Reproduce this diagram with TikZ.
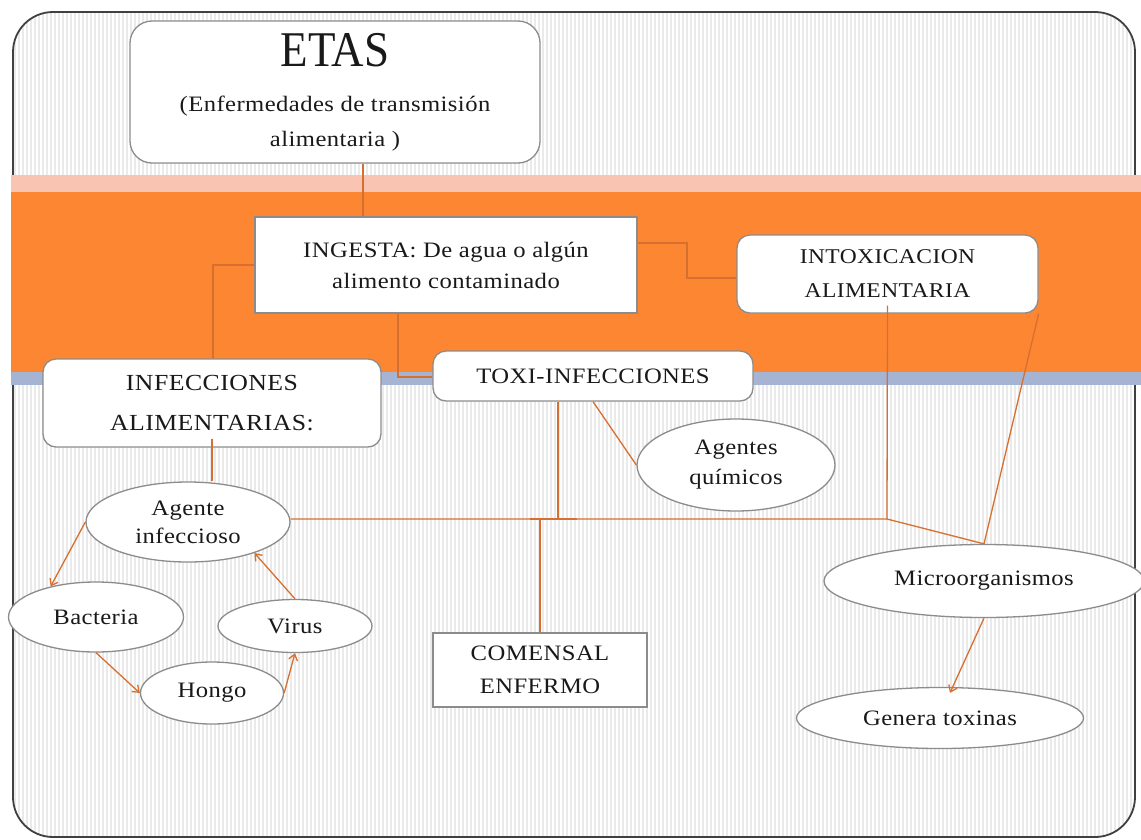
\documentclass[tikz,border=0pt]{standalone}
\usepackage{fontspec}
\setmainfont{Liberation Serif}[FakeStretch=1.12,LetterSpace=2]
\newfontfamily\etasfont{Liberation Serif}[FakeStretch=0.9]
\usetikzlibrary{shapes.geometric,arrows.meta}
\definecolor{bandorange}{RGB}{253,134,51}
\definecolor{bandpink}{RGB}{250,196,178}
\definecolor{bandblue}{RGB}{166,180,212}
\definecolor{conncol}{RGB}{214,112,48}
\definecolor{nodeborder}{RGB}{140,140,140}
\definecolor{stripecol}{RGB}{234,234,234}
\definecolor{txtcol}{RGB}{25,25,25}
\begin{document}
\begin{tikzpicture}[x=1pt,y=-1pt,
  box/.style={draw=nodeborder, line width=1.3pt, fill=white, inner sep=0pt, align=center, text=txtcol},
  rbox/.style={box, rounded corners=13pt},
  sbox/.style={box},
  oval/.style={box, ellipse},
  fs/.style={font=\fontsize{22}{#1}\selectfont},
  link/.style={draw=conncol, line width=1.3pt},
  arr/.style={link, -{Straight Barb[length=6pt,width=9pt]}},
]
\useasboundingbox (0,0) rectangle (1141,839);
\fill[white] (0,0) rectangle (1141,839);
% striped background inside the frame
\begin{scope}
  \clip[rounded corners=40pt] (13,12) rectangle (1135,837);
  \foreach \x in {15,19,...,1135} \draw[stripecol, line width=1.1pt] (\x,12) -- (\x,837);
\end{scope}
\draw[black!75, line width=1.8pt, rounded corners=40pt] (13,12) rectangle (1135,837);
% bands
\fill[bandpink] (11,175) rectangle (1141,192);
\fill[bandorange] (11,192) rectangle (1141,372);
\fill[bandblue] (11,372) rectangle (1141,385);

% nodes
\node[rbox, rounded corners=22pt, minimum width=410pt, minimum height=142pt, fs=35] (etas) at (335,92)
  {{\etasfont\fontsize{50}{50}\selectfont ETAS}\\[10pt](Enfermedades de transmisión\\alimentaria )};
\node[sbox, minimum width=382pt, minimum height=96pt, fs=31] (ingesta) at (446,265)
  {INGESTA: De agua o algún\\alimento contaminado};
\node[rbox, minimum width=301pt, minimum height=78pt, font=\fontsize{21}{34}\selectfont] (intox) at (887.5,274)
  {INTOXICACION\\ALIMENTARIA};
\node[rbox, minimum width=320pt, minimum height=50pt, fs=30] (toxi) at (593,376) {TOXI-INFECCIONES};
\node[rbox, minimum width=338pt, minimum height=88pt, font=\fontsize{23}{40}\selectfont] (infec) at (212,403)
  {INFECCIONES\\ALIMENTARIAS:};
\node[oval, minimum width=198pt, minimum height=92pt, fs=30] (quim) at (736,465) {Agentes\\químicos};
\node[oval, minimum width=204pt, minimum height=80pt, fs=28] (agente) at (188,522) {Agente\\infeccioso};
\node[oval, minimum width=175pt, minimum height=70pt, fs=28] (bacteria) at (96,617) {Bacteria};
\node[oval, minimum width=154pt, minimum height=53pt, fs=28] (virus) at (295,626) {Virus};
\node[oval, minimum width=143pt, minimum height=62pt, fs=28] (hongo) at (212,693) {Hongo};
\node[sbox, minimum width=214pt, minimum height=74pt, fs=33] (comensal) at (540,670) {COMENSAL\\ENFERMO};
\node[oval, minimum width=320pt, minimum height=73pt, fs=28] (micro) at (984,581) {Microorganismos};
\node[oval, minimum width=287pt, minimum height=61pt, fs=28] (genera) at (940,718) {Genera toxinas};

% junction points
\coordinate (jA) at (363,0);
\coordinate (jB) at (213,265);
\coordinate (jC) at (398,377);
\coordinate (jD1) at (687,243);
\coordinate (jD2) at (687,278);
\coordinate (jE) at (887,519);
\coordinate (jF) at (558,519);
\coordinate (jG) at (540,519);
\coordinate (jH) at (593,0);

% connectors
\draw[link] (etas.south -| jA) -- (ingesta.north -| jA);
\draw[link] (ingesta.west) -- (jB) -- (infec.north -| jB);
\draw[link] (ingesta.south -| jC) -- (jC) -- (toxi.west |- jC);
\draw[link] (ingesta.east |- jD1) -- (jD1) -- (jD2) -- (intox.west |- jD2);
\draw[link] ([yshift=8pt]intox.south) -- (jE) -- (agente.east |- jE);
\draw[link] (jE) -- (micro.north);
\draw[link] (intox.south east) -- (micro.north);
\draw[link] (toxi.south -| jF) -- (jF);
\draw[link] ([xshift=-28pt]jF) -- ([xshift=19pt]jF);
\draw[link] (jG) -- (comensal.north);
\draw[link] (toxi.south -| jH) -- (quim.west);
\draw[link] ([yshift=9pt]infec.south) -- (agente.north -| infec.south);

% arrows
\draw[arr] (agente.west) -- (bacteria.146);
\draw[arr] (bacteria.south) -- (hongo.west);
\draw[arr] (hongo.east) -- (virus.south);
\draw[arr] (virus.north) -- (agente.335);
\draw[arr] (micro.south) -- ([xshift=10pt,yshift=-6pt]genera.north);
\end{tikzpicture}
\end{document}
